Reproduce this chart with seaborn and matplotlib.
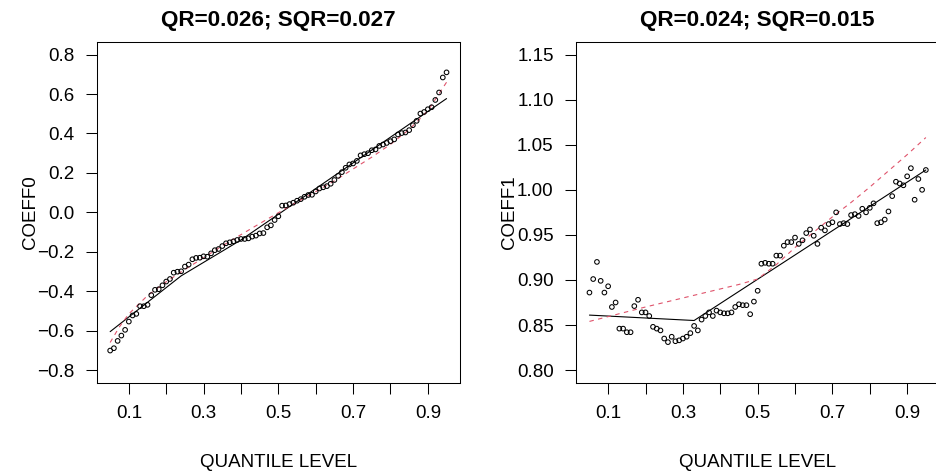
import matplotlib
matplotlib.use("Agg")
import matplotlib.pyplot as plt
import seaborn as sns
import pandas as pd

# ---------------- data ----------------
quantile_levels = [
    0.05, 0.06, 0.07, 0.08, 0.09, 0.10, 0.11, 0.12, 0.13, 0.14,
    0.15, 0.16, 0.17, 0.18, 0.19, 0.20, 0.21, 0.22, 0.23, 0.24,
    0.25, 0.26, 0.27, 0.28, 0.29, 0.30, 0.31, 0.32, 0.33, 0.34,
    0.35, 0.36, 0.37, 0.38, 0.39, 0.40, 0.41, 0.42, 0.43, 0.44,
    0.45, 0.46, 0.47, 0.48, 0.49, 0.50, 0.51, 0.52, 0.53, 0.54,
    0.55, 0.56, 0.57, 0.58, 0.59, 0.60, 0.61, 0.62, 0.63, 0.64,
    0.65, 0.66, 0.67, 0.68, 0.69, 0.70, 0.71, 0.72, 0.73, 0.74,
    0.75, 0.76, 0.77, 0.78, 0.79, 0.80, 0.81, 0.82, 0.83, 0.84,
    0.85, 0.86, 0.87, 0.88, 0.89, 0.90, 0.91, 0.92, 0.93, 0.94,
    0.95,
]

coeff0 = [
    -0.701, -0.689, -0.652, -0.625, -0.596, -0.554, -0.523, -0.515, -0.476, -0.476,
    -0.469, -0.420, -0.393, -0.390, -0.370, -0.351, -0.338, -0.306, -0.301, -0.299,
    -0.275, -0.265, -0.238, -0.231, -0.230, -0.223, -0.225, -0.208, -0.192, -0.186,
    -0.171, -0.157, -0.152, -0.147, -0.140, -0.135, -0.135, -0.132, -0.123, -0.118,
    -0.107, -0.105, -0.076, -0.066, -0.039, -0.020, 0.034, 0.035, 0.042, 0.049,
    0.059, 0.067, 0.079, 0.088, 0.089, 0.106, 0.121, 0.127, 0.133, 0.145,
    0.164, 0.185, 0.204, 0.226, 0.243, 0.248, 0.261, 0.289, 0.295, 0.300,
    0.315, 0.319, 0.337, 0.344, 0.352, 0.361, 0.370, 0.395, 0.402, 0.405,
    0.417, 0.442, 0.464, 0.501, 0.509, 0.523, 0.533, 0.570, 0.608, 0.684,
    0.710,
]

coeff1 = [
    0.886, 0.901, 0.920, 0.899, 0.886, 0.893, 0.870, 0.875, 0.846, 0.846,
    0.842, 0.842, 0.871, 0.878, 0.864, 0.864, 0.860, 0.848, 0.846, 0.844,
    0.835, 0.831, 0.837, 0.832, 0.833, 0.835, 0.837, 0.841, 0.849, 0.844,
    0.856, 0.860, 0.864, 0.860, 0.866, 0.864, 0.863, 0.863, 0.864, 0.870,
    0.873, 0.872, 0.872, 0.862, 0.876, 0.888, 0.918, 0.919, 0.918, 0.918,
    0.927, 0.927, 0.938, 0.942, 0.942, 0.947, 0.940, 0.944, 0.952, 0.956,
    0.949, 0.940, 0.958, 0.955, 0.962, 0.964, 0.975, 0.962, 0.963, 0.962,
    0.972, 0.973, 0.971, 0.979, 0.975, 0.980, 0.985, 0.963, 0.964, 0.967,
    0.976, 0.993, 1.009, 1.007, 1.005, 1.015, 1.024, 0.989, 1.012, 1.000,
    1.022,
]

# QR fit (solid black) and SQR fit (dashed red), read at a few levels
qr0_levels = [0.05, 0.24, 0.40, 0.50, 0.95]
qr0_values = [-0.605, -0.322, -0.140, -0.010, 0.577]

sqr0_levels = [0.05, 0.075, 0.10, 0.15, 0.20, 0.25, 0.30, 0.35, 0.40, 0.45,
               0.50, 0.55, 0.60, 0.65, 0.70, 0.75, 0.80, 0.85, 0.90, 0.95]
sqr0_values = [-0.660, -0.580, -0.515, -0.422, -0.352, -0.290, -0.230, -0.170,
               -0.113, -0.057, -0.002, 0.052, 0.105, 0.160, 0.220, 0.280,
               0.345, 0.420, 0.515, 0.660]

qr1_levels = [0.05, 0.33, 0.95]
qr1_values = [0.861, 0.855, 1.022]

sqr1_levels = [0.05, 0.20, 0.35, 0.45, 0.50, 0.55, 0.60, 0.65, 0.70, 0.75,
               0.80, 0.85, 0.90, 0.95]
sqr1_values = [0.854, 0.870, 0.885, 0.895, 0.901, 0.917, 0.936, 0.953, 0.970,
               0.986, 1.003, 1.021, 1.039, 1.058]

titles = ["QR=0.026; SQR=0.027", "QR=0.024; SQR=0.015"]
ylabels = ["COEFF0", "COEFF1"]
xlabel = "QUANTILE LEVEL"

x_ticks = [0.1, 0.2, 0.3, 0.4, 0.5, 0.6, 0.7, 0.8, 0.9]
x_ticklabels = ["0.1", "", "0.3", "", "0.5", "", "0.7", "", "0.9"]
y0_ticks = [-0.8, -0.6, -0.4, -0.2, 0.0, 0.2, 0.4, 0.6, 0.8]
y0_ticklabels = ["\u22120.8", "\u22120.6", "\u22120.4", "\u22120.2", "0.0", "0.2", "0.4", "0.6", "0.8"]
y1_ticks = [0.80, 0.85, 0.90, 0.95, 1.00, 1.05, 1.10, 1.15]
y1_ticklabels = ["0.80", "0.85", "0.90", "0.95", "1.00", "1.05", "1.10", "1.15"]

# ---------------- style ----------------
sns.set_theme(style="white")
plt.rcParams["font.family"] = ["Liberation Sans", "DejaVu Sans"]

W, H = 936, 476
fig = plt.figure(figsize=(W / 100, H / 100), dpi=100)

RED = "#DF536B"
AX_FS = 13.5
TITLE_FS = 16.2

def px_axes(left, top, right, bottom):
    return fig.add_axes([left / W, 1 - bottom / H, (right - left) / W, (bottom - top) / H])

ax0 = px_axes(96.7, 42.0, 460.0, 382.7)
ax1 = px_axes(576.0, 42.0, 939.3, 382.7)

panels = [
    (ax0, coeff0, qr0_levels, qr0_values, sqr0_levels, sqr0_values,
     (-0.864, 0.864), y0_ticks, y0_ticklabels),
    (ax1, coeff1, qr1_levels, qr1_values, sqr1_levels, sqr1_values,
     (0.786, 1.164), y1_ticks, y1_ticklabels),
]

for k, (ax, pts, ql, qv, sl, sv, ylim, yt, ytl) in enumerate(panels):
    df = pd.DataFrame({"q": quantile_levels, "v": pts})
    sns.scatterplot(data=df, x="q", y="v", ax=ax, marker="o", s=11,
                    fc="none", ec="black", linewidth=0.75, zorder=3)
    sns.lineplot(x=ql, y=qv, ax=ax, color="black", linewidth=0.8,
                 estimator=None, sort=False, zorder=2)
    sns.lineplot(x=sl, y=sv, ax=ax, color=RED, linewidth=0.8,
                 linestyle=(0, (4, 4)), estimator=None, sort=False, zorder=2)

    ax.set_xlim(0.014, 0.986)
    ax.set_ylim(*ylim)
    ax.set_xticks(x_ticks)
    ax.set_xticklabels(x_ticklabels)
    ax.set_yticks(yt)
    ax.set_yticklabels(ytl)
    ax.tick_params(axis="both", which="both", direction="out", length=8.1,
                   width=0.75, color="black", labelsize=AX_FS,
                   labelcolor="black", bottom=True, left=True)
    ax.tick_params(axis="x", pad=8)
    ax.tick_params(axis="y", pad=8)
    for sp in ax.spines.values():
        sp.set_visible(True)
        sp.set_color("black")
        sp.set_linewidth(0.75)
    ax.set_facecolor("white")
    ax.grid(False)

    ax.set_title(titles[k], fontsize=TITLE_FS, fontweight="bold", pad=11.5, color="black")
    ax.set_xlabel(xlabel, fontsize=AX_FS, color="black")
    ax.set_ylabel(ylabels[k], fontsize=AX_FS, color="black")
    ax.xaxis.label.set_va("center")
    ax.xaxis.set_label_coords(0.5, (382.7 - 462.0) / 340.7)
    ax.yaxis.label.set_va("center")
    ax.yaxis.set_label_coords((30.0 - 96.7) / 363.3, 0.5)

fig.savefig("out.png", dpi=100, facecolor="white")
